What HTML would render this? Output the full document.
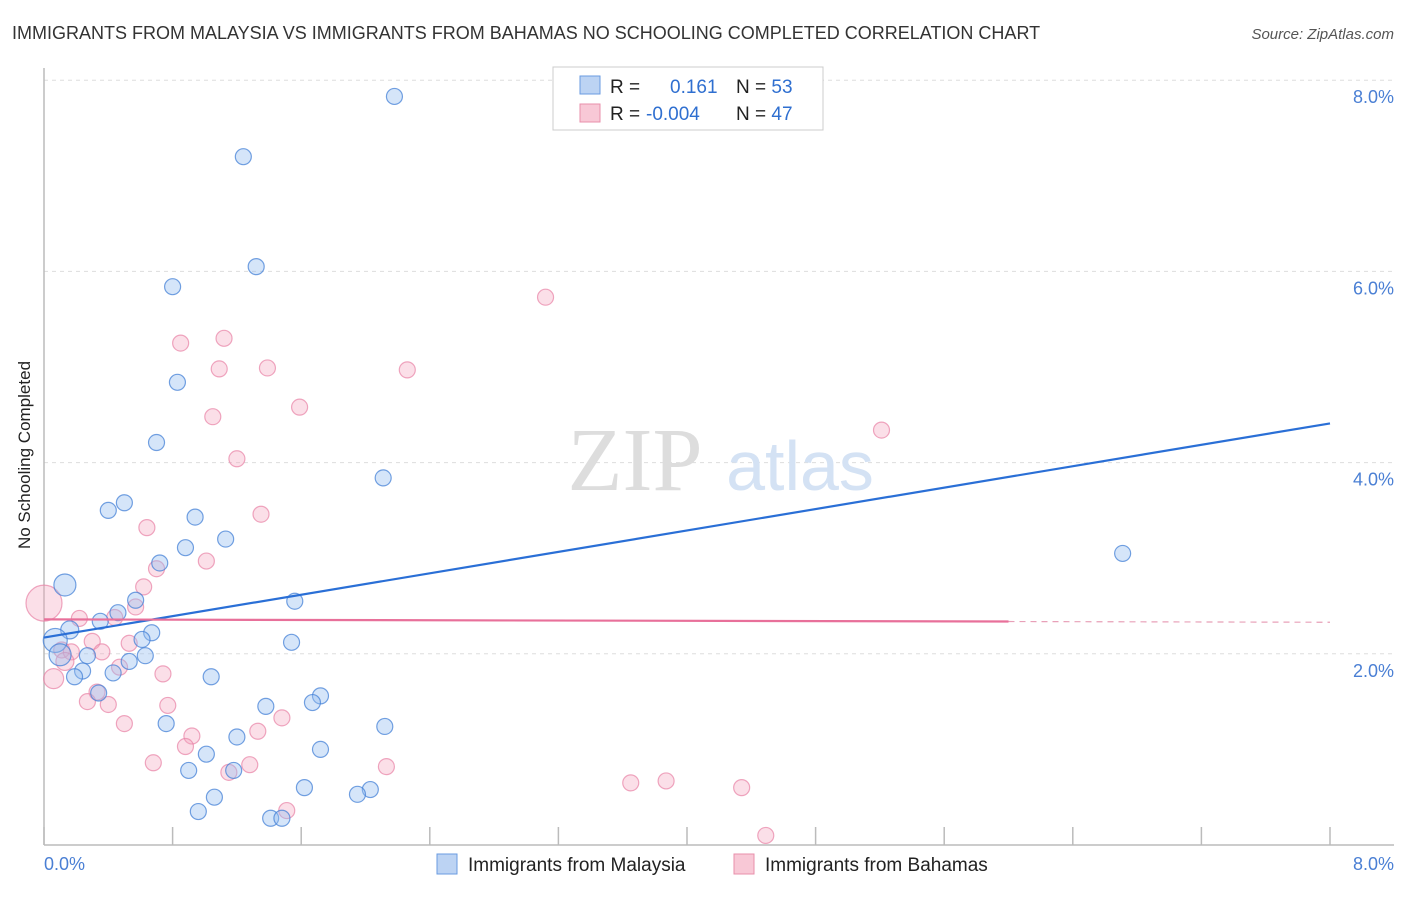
<!DOCTYPE html>
<html><head><meta charset="utf-8"><style>
body{margin:0;background:#fff;font-family:"Liberation Sans",sans-serif}
</style></head><body>
<svg width="1406" height="892" xmlns="http://www.w3.org/2000/svg" font-family="Liberation Sans, sans-serif">
<text x="12" y="39" font-size="18" fill="#333">IMMIGRANTS FROM MALAYSIA VS IMMIGRANTS FROM BAHAMAS NO SCHOOLING COMPLETED CORRELATION CHART</text>
<text x="1394" y="39" font-size="15" fill="#555" text-anchor="end" font-style="italic">Source: ZipAtlas.com</text>
<g id="grid"></g>
<text x="635" y="490" font-size="90" fill="#ddd" font-family="Liberation Serif, serif" text-anchor="middle">ZIP</text>
<text x="800" y="490" font-size="70" fill="#d4e2f4" text-anchor="middle">atlas</text>
<g id="pts"></g>
<g id="trend"></g>
<text x="30" y="455" font-size="17" fill="#222" text-anchor="middle" transform="rotate(-90 30 455)">No Schooling Completed</text>
<text x="44" y="870" font-size="18" fill="#4a7fd4">0.0%</text>
<text x="1394" y="870" font-size="18" fill="#4a7fd4" text-anchor="end">8.0%</text>
<g>
<rect x="553" y="67" width="270" height="63" fill="#fff" stroke="#ccc"/>
<rect x="580" y="76" width="20" height="18" fill="#bcd3f3" stroke="#6a9be0"/>
<rect x="580" y="104" width="20" height="18" fill="#f8c8d6" stroke="#e88fab"/>
<text x="610" y="93" font-size="19" fill="#222">R = <tspan x="670" fill="#2f6fd0">0.161</tspan><tspan x="736" fill="#222">N = </tspan><tspan fill="#2f6fd0">53</tspan></text>
<text x="610" y="120" font-size="19" fill="#222">R = <tspan x="646" fill="#2f6fd0">-0.004</tspan><tspan x="736" fill="#222">N = </tspan><tspan fill="#2f6fd0">47</tspan></text>
</g>
<g>
<rect x="437" y="854" width="20" height="20" fill="#bcd3f3" stroke="#6a9be0"/>
<text x="468" y="871" font-size="19" fill="#222">Immigrants from Malaysia</text>
<rect x="734" y="854" width="20" height="20" fill="#f8c8d6" stroke="#e88fab"/>
<text x="765" y="871" font-size="19" fill="#222">Immigrants from Bahamas</text>
</g>
</svg>
<script>
const yTicks=[0,2,4,6,8];
const yTickLabels=["","2.0%","4.0%","6.0%","8.0%"];
const xTicks=[0,0.8,1.6,2.4,3.2,4,4.8,5.6,6.4,7.2,8];
const blueX=[2.18,1.24,1.32,0.80,0.83,0.70,2.11,0.50,0.40,0.94,1.13,0.88,0.72,0.13,0.57,1.56,0.46,0.35,0.16,0.67,0.61,0.07,0.10,1.54,0.63,0.53,0.27,0.24,0.43,0.19,1.04,0.34,1.72,1.67,1.38,0.76,2.12,1.20,1.72,1.01,0.90,1.18,1.62,2.03,1.95,1.06,0.96,1.41,1.48,6.71,3.23];
const blueY=[7.83,7.20,6.05,5.84,4.84,4.21,3.84,3.58,3.50,3.43,3.20,3.11,2.95,2.72,2.56,2.55,2.43,2.34,2.25,2.22,2.15,2.14,1.99,2.12,1.98,1.92,1.98,1.82,1.80,1.76,1.76,1.59,1.56,1.49,1.45,1.27,1.24,1.13,1.00,0.95,0.78,0.78,0.60,0.58,0.53,0.50,0.35,0.28,0.28,3.05,7.98];
const blueR=[8,8,8,8,8,8,8,8,8,8,8,8,8,11,8,8,8,8,9,8,8,12,11,8,8,8,8,8,8,8,8,8,8,8,8,8,8,8,8,8,8,8,8,8,8,8,8,8,8,8,8];
const pinkX=[3.12,1.12,0.85,1.09,1.39,2.26,1.59,1.05,1.20,5.21,1.35,0.64,1.01,0.70,0.62,0.0,0.57,0.22,0.44,0.30,0.53,0.11,0.17,0.36,0.13,0.47,0.74,0.06,0.33,0.27,0.40,0.77,1.48,0.50,1.33,0.92,0.88,0.68,1.28,1.15,2.13,3.65,3.87,4.34,1.51,4.49];
const pinkY=[5.73,5.30,5.25,4.98,4.99,4.97,4.58,4.48,4.04,4.34,3.46,3.32,2.97,2.89,2.70,2.53,2.49,2.37,2.38,2.13,2.11,2.04,2.02,2.02,1.92,1.86,1.79,1.74,1.60,1.50,1.47,1.46,1.33,1.27,1.19,1.14,1.03,0.86,0.84,0.76,0.82,0.65,0.67,0.60,0.36,0.10];
const pinkR=[8,8,8,8,8,8,8,8,8,8,8,8,8,8,8,18,8,8,8,8,8,8,8,8,9,8,8,10,8,8,8,8,8,8,8,8,8,8,8,8,8,8,8,8,8,8];
const blueTrend=[2.17,4.41];
const pinkTrend=[2.36,2.33];
const X0=44,X1=1330,Y0=845,PX=95.6;
const sx=v=>X0+(X1-X0)*v/8;
const sy=v=>Y0-v*PX;
const NS="http://www.w3.org/2000/svg";
function mk(tag,attrs,parent){const e=document.createElementNS(NS,tag);for(const k in attrs)e.setAttribute(k,attrs[k]);parent.appendChild(e);return e;}
const grid=document.getElementById('grid');
yTicks.forEach((t,i)=>{
 if(t>0){const l=mk('line',{x1:X0,x2:1394,y1:sy(t),y2:sy(t),stroke:'#ddd','stroke-dasharray':'4,4'},grid);
 
 
 const tx=mk('text',{x:1394,y:sy(t)+23,'font-size':18,fill:'#4a7fd4','text-anchor':'end'},grid);tx.textContent=yTickLabels[i];
 
 }
});
const ax=mk('line',{x1:X0,x2:X0,y1:68,y2:Y0,stroke:'#bbb','stroke-width':1.5},grid);


const bx=mk('line',{x1:X0,x2:1394,y1:Y0,y2:Y0,stroke:'#bbb','stroke-width':1.5},grid);


xTicks.forEach(t=>{const l=mk('line',{x1:sx(t),x2:sx(t),y1:Y0,y2:Y0-18,stroke:'#bbb','stroke-width':1.5},grid);
 
 });
const pts=document.getElementById('pts');
pinkX.forEach((v,i)=>{const c=mk('circle',{cx:sx(v),cy:sy(pinkY[i]),r:pinkR[i],fill:'rgba(244,164,190,0.35)',stroke:'rgba(232,130,165,0.7)','stroke-width':1.2},pts);
 
 });
blueX.forEach((v,i)=>{const c=mk('circle',{cx:sx(v),cy:sy(blueY[i]),r:blueR[i],fill:'rgba(150,190,240,0.4)',stroke:'rgba(70,130,215,0.75)','stroke-width':1.2},pts);
 
 });
const tr=document.getElementById('trend');
const b=mk('line',{x1:sx(0),y1:sy(blueTrend[0]),x2:sx(8),y2:sy(blueTrend[1]),stroke:'#2a6fd6','stroke-width':2.2},tr);


const f=6.0/8, pm=pinkTrend[0]+(pinkTrend[1]-pinkTrend[0])*f;
const p1=mk('line',{x1:sx(0),y1:sy(pinkTrend[0]),x2:sx(6.0),y2:sy(pm),stroke:'#e8709a','stroke-width':2.2},tr);


const p2=mk('line',{x1:sx(6.0),y1:sy(pm),x2:sx(8),y2:sy(pinkTrend[1]),stroke:'#e8a0b8','stroke-width':1.2,'stroke-dasharray':'6,5'},tr);


</script>
</body></html>
